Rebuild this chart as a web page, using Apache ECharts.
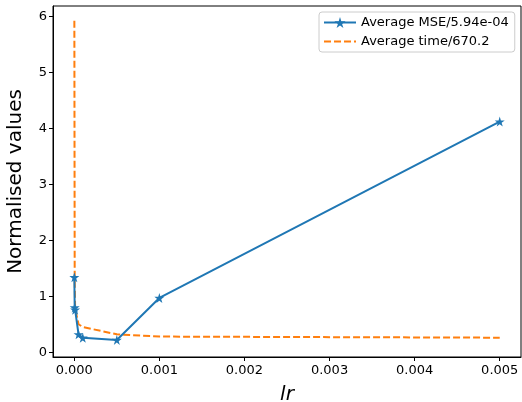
<!DOCTYPE html>
<html>
<head>
<meta charset="utf-8">
<script src="https://cdn.jsdelivr.net/npm/echarts@6.0.0/dist/echarts.min.js"></script>
<style>
html,body{margin:0;padding:0;background:#fff;}
#chart{width:522px;height:402px;}
</style>
</head>
<body>
<div id="chart"></div>
<script>
const lrValues = [0.000001, 0.000005, 0.00001, 0.00005, 0.0001, 0.0005, 0.001, 0.005];
const mseValues = [1.34, 0.80, 0.76, 0.32, 0.26, 0.22, 0.97, 4.12];
const timeValues = [5.92, 1.30, 0.78, 0.50, 0.45, 0.32, 0.28, 0.26];
const xTicks = [0, 0.001, 0.002, 0.003, 0.004, 0.005];
const yTicks = [0, 1, 2, 3, 4, 5, 6];
const seriesNames = ['Average MSE/5.94e-04', 'Average time/670.2'];

const star = 'path://M50,0 L61,35 L98,35 L68,57 L79,91 L50,70 L21,91 L32,57 L2,35 L39,35 Z';
const font = 'DejaVu Sans';

const chart = echarts.init(document.getElementById('chart'), null, {renderer: 'canvas'});
chart.setOption({
  animation: false,
  backgroundColor: '#fff',
  textStyle: {fontFamily: font},
  grid: {left: 53, right: 1, top: 6, bottom: 45, show: true, borderColor: '#000', borderWidth: 1,
    backgroundColor: 'transparent', containLabel: false, outerBoundsMode: 'none'},
  legend: {
    left: 319, top: 12,
    orient: 'vertical',
    itemWidth: 32, itemHeight: 14, itemGap: 6,
    padding: [4, 6, 4, 4],
    borderColor: '#cccccc', borderWidth: 1, borderRadius: 3,
    backgroundColor: 'rgba(255,255,255,0.8)',
    textStyle: {fontFamily: font, fontSize: 13, color: '#000'},
    data: [
      {name: seriesNames[0]},
      {name: seriesNames[1], itemStyle: {opacity: 0}}
    ]
  },
  xAxis: {
    type: 'value',
    min: -0.00025, max: 0.00525,
    name: 'lr', nameLocation: 'middle', nameGap: 28,
    nameTextStyle: {fontFamily: font, fontSize: 20, fontStyle: 'italic', color: '#000'},
    axisLine: {show: true, onZero: false, lineStyle: {color: '#000', width: 1}},
    axisTick: {show: true, length: 4, customValues: xTicks, lineStyle: {color: '#000'}},
    axisLabel: {customValues: xTicks, fontFamily: font, fontSize: 13, color: '#000', margin: 7,
      formatter: v => v.toFixed(3)},
    splitLine: {show: false}
  },
  yAxis: {
    type: 'value',
    min: -0.085, max: 6.185,
    name: 'Normalised values', nameLocation: 'middle', nameGap: 27,
    nameTextStyle: {fontFamily: font, fontSize: 20, color: '#000'},
    axisLine: {show: true, onZero: false, lineStyle: {color: '#000', width: 1}},
    axisTick: {show: true, length: 4, customValues: yTicks, lineStyle: {color: '#000'}},
    axisLabel: {customValues: yTicks, fontFamily: font, fontSize: 13, color: '#000', margin: 6,
      formatter: v => String(Math.round(v))},
    splitLine: {show: false}
  },
  series: [
    {
      name: seriesNames[0], type: 'line',
      data: lrValues.map((x, i) => [x, mseValues[i]]),
      color: '#1f77b4',
      lineStyle: {color: '#1f77b4', width: 2},
      symbol: star, symbolSize: 10, showSymbol: true,
      itemStyle: {color: '#1f77b4'},
      z: 3
    },
    {
      name: seriesNames[1], type: 'line',
      data: lrValues.map((x, i) => [x, timeValues[i]]),
      color: '#ff7f0e',
      lineStyle: {color: '#ff7f0e', width: 2, type: [7, 3]},
      symbol: 'none', showSymbol: false,
      itemStyle: {color: '#ff7f0e'},
      z: 2
    }
  ]
});
</script>
</body>
</html>
